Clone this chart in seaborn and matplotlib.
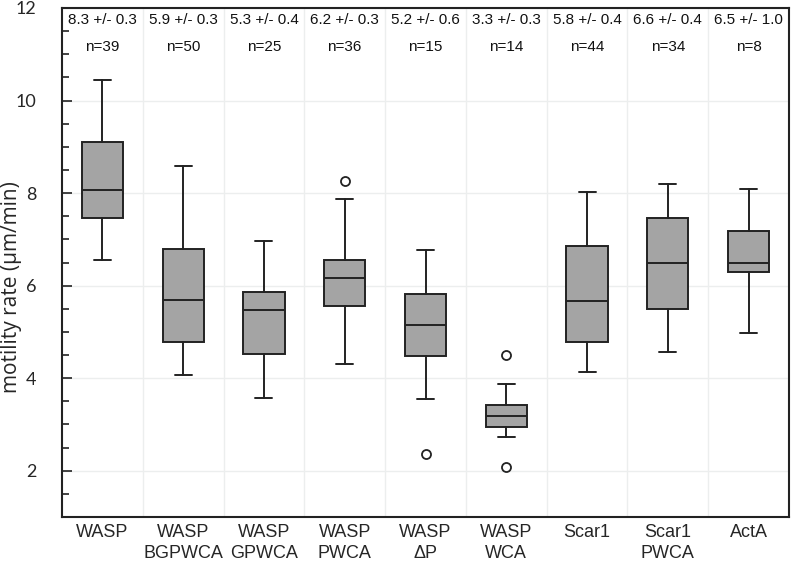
import numpy as np
import pandas as pd
import matplotlib.pyplot as plt
import seaborn as sns

# box summary (motility rate, um/min)
groups = ["WASP", "WASP\nBGPWCA", "WASP\nGPWCA", "WASP\nPWCA", "WASP\nΔP",
          "WASP\nWCA", "Scar1", "Scar1\nPWCA", "ActA"]
whisker_low = [6.56, 4.06, 3.58, 4.30, 3.54, 2.73, 4.13, 4.56, 4.98]
quart_1 = [7.47, 4.79, 4.53, 5.57, 4.49, 2.95, 4.79, 5.50, 6.29]
medians = [8.06, 5.70, 5.47, 6.17, 5.16, 3.19, 5.67, 6.49, 6.49]
quart_3 = [9.11, 6.79, 5.86, 6.56, 5.83, 3.41, 6.85, 7.47, 7.18]
whisker_high = [10.45, 8.59, 6.96, 7.87, 6.76, 3.87, 8.03, 8.20, 8.09]
outliers = [[], [], [], [8.27], [2.37], [4.51, 2.07], [], [], []]

mean_rate = [8.3, 5.9, 5.3, 6.2, 5.2, 3.3, 5.8, 6.6, 6.5]
sem_rate = [0.3, 0.3, 0.4, 0.3, 0.6, 0.3, 0.4, 0.4, 1.0]
n_cells = [39, 50, 25, 36, 15, 14, 44, 34, 8]


def build_stats():
    df = pd.DataFrame({
        'label': groups, 'whislo': whisker_low, 'q1': quart_1, 'med': medians,
        'q3': quart_3, 'whishi': whisker_high,
    })
    df['fliers'] = outliers
    return df.to_dict('records')


def main():
    sns.set_theme(style="white", rc={
        'axes.edgecolor': '#222222',
        'axes.linewidth': 1.5,
        'grid.color': '#eceeee',
        'grid.linewidth': 1.0,
    })
    plt.rcParams['font.family'] = ['Liberation Sans', 'DejaVu Sans']

    fig = plt.figure(figsize=(7.92, 5.63), dpi=100)
    ax = fig.add_axes([62 / 792, 1 - 517 / 563, 727 / 792, 509 / 563])

    stats = build_stats()
    ax.bxp(stats, positions=np.arange(len(groups)), widths=0.51, capwidths=0.21,
           patch_artist=True, showfliers=True,
           boxprops=dict(facecolor='#a4a4a4', edgecolor='#222222', linewidth=1.4),
           medianprops=dict(color='#222222', linewidth=1.4),
           whiskerprops=dict(color='#222222', linewidth=1.4),
           capprops=dict(color='#222222', linewidth=1.4),
           flierprops=dict(marker='o', markersize=6.5, markerfacecolor='white',
                           markeredgecolor='#222222', markeredgewidth=1.3))

    # annotations: mean +/- sem and n
    for i in range(len(groups)):
        ax.text(i, 11.75, f"{mean_rate[i]:.1f} +/- {sem_rate[i]:.1f}", ha='center',
                va='center', fontsize=11, color='#111111')
        ax.text(i, 11.15, f"n={n_cells[i]}", ha='center', va='center',
                fontsize=11, color='#111111')

    ax.set_xlim(-0.5, len(groups) - 0.5)
    ax.set_ylim(1, 12)

    ax.set_yticks([2, 4, 6, 8, 10, 12])
    ax.set_yticks(np.arange(1.5, 12, 0.5), minor=True)
    ax.set_xticks(np.arange(len(groups)))
    ax.set_xticklabels(groups, fontsize=13, linespacing=1.35)
    ax.set_xticks(np.arange(0.5, len(groups) - 0.5, 1.0), minor=True)

    ax.tick_params(axis='y', which='major', direction='in', left=True, length=7.5,
                   width=1.2, color='#222222', pad=18.3, labelsize=13)
    ax.tick_params(axis='y', which='minor', direction='in', left=True, length=4.8,
                   width=1.2, color='#222222')
    ax.tick_params(axis='x', which='both', length=0, pad=5)
    for lab in ax.get_yticklabels():
        lab.set_family(['Lato', 'DejaVu Sans'])

    ax.grid(True, axis='y', which='major')
    ax.grid(True, axis='x', which='minor')
    ax.set_axisbelow(True)

    ax.set_ylabel("motility rate (µm/min)", fontsize=15,
                  family=['Open Sans', 'DejaVu Sans'])
    ax.yaxis.set_label_coords(-0.055, 0.452)

    plt.savefig('out.png', dpi=100)


if __name__ == "__main__":
    main()
